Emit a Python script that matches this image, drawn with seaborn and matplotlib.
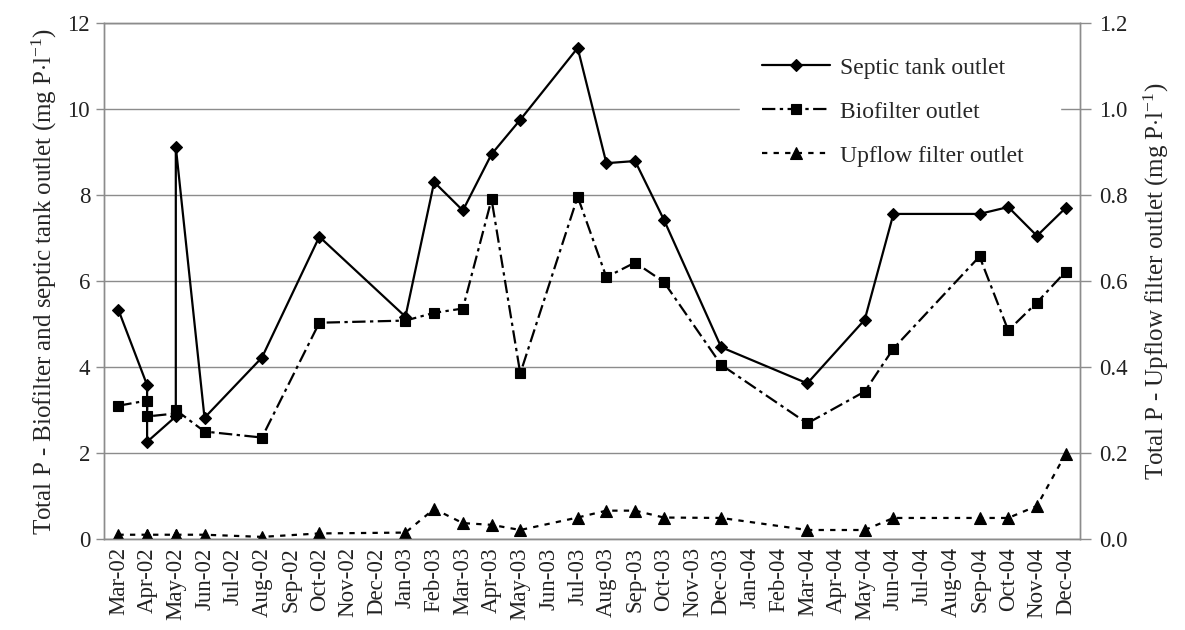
import numpy as np
import pandas as pd
import matplotlib
matplotlib.use('Agg')
import matplotlib.pyplot as plt
import seaborn as sns

# Month categories on the x axis (Excel-style monthly date axis)
month_labels = ['Mar-02', 'Apr-02', 'May-02', 'Jun-02', 'Jul-02', 'Aug-02', 'Sep-02',
                'Oct-02', 'Nov-02', 'Dec-02', 'Jan-03', 'Feb-03', 'Mar-03', 'Apr-03',
                'May-03', 'Jun-03', 'Jul-03', 'Aug-03', 'Sep-03', 'Oct-03', 'Nov-03',
                'Dec-03', 'Jan-04', 'Feb-04', 'Mar-04', 'Apr-04', 'May-04', 'Jun-04',
                'Jul-04', 'Aug-04', 'Sep-04', 'Oct-04', 'Nov-04', 'Dec-04']

# Sampling months (several samples can fall in the same month)
sample_months = ['Mar-02', 'Apr-02', 'Apr-02', 'May-02', 'May-02', 'Jun-02', 'Aug-02',
                 'Oct-02', 'Jan-03', 'Feb-03', 'Mar-03', 'Apr-03', 'May-03', 'Jul-03',
                 'Aug-03', 'Sep-03', 'Oct-03', 'Dec-03', 'Mar-04', 'May-04', 'Jun-04',
                 'Sep-04', 'Oct-04', 'Nov-04', 'Dec-04']

septic = [5.33, 3.58, 2.26, 2.85, 9.12, 2.82, 4.22, 7.03, 5.17, 8.30, 7.64, 8.95, 9.75,
          11.42, 8.74, 8.79, 7.43, 4.46, 3.62, 5.10, 7.56, 7.56, 7.72, 7.05, 7.70]
biofilter = [3.10, 3.22, 2.85, 2.92, 3.00, 2.50, 2.36, 5.03, 5.08, 5.26, 5.36, 7.90, 3.85,
             7.96, 6.09, 6.43, 5.98, 4.05, 2.69, 3.43, 4.43, 6.57, 4.85, 5.50, 6.22]
upflow = [0.010, 0.010, 0.010, 0.010, 0.010, 0.010, 0.005, 0.013, 0.015, 0.070, 0.037,
          0.033, 0.021, 0.050, 0.066, 0.066, 0.050, 0.049, 0.021, 0.021, 0.049, 0.049,
          0.049, 0.077, 0.198]

df = pd.DataFrame({
    'month': sample_months,
    'septic': septic,
    'biofilter': biofilter,
    'upflow': upflow,
})
df['pos'] = [month_labels.index(m) for m in df['month']]

sns.set_style('white')
plt.rcParams['font.family'] = ['Liberation Serif', 'DejaVu Serif']
plt.rcParams['mathtext.fontset'] = 'custom'
plt.rcParams['mathtext.rm'] = 'Liberation Serif'
plt.rcParams['mathtext.it'] = 'Liberation Serif:italic'

fig, ax = plt.subplots(figsize=(11.85, 6.3), dpi=100)
fig.subplots_adjust(left=0.0878, right=0.9114, top=0.9635, bottom=0.1444)
ax2 = ax.twinx()

grey = '#8c8c8c'
fs = 16.5

sns.lineplot(data=df, x='pos', y='septic', ax=ax, estimator=None, sort=False,
             color='black', lw=1.6, marker='D', markersize=6.5, mec='black', mew=0.8,
             label='Septic tank outlet')
sns.lineplot(data=df, x='pos', y='biofilter', ax=ax, estimator=None, sort=False,
             color='black', lw=1.6, linestyle=(0, (6, 2, 1.5, 2)), marker='s',
             markersize=7.5, mec='black', mew=0.8, label='Biofilter outlet')
sns.lineplot(data=df, x='pos', y='upflow', ax=ax2, estimator=None, sort=False,
             color='black', lw=1.6, linestyle=(0, (2.4, 2.8)), marker='^',
             markersize=8.5, mec='black', mew=0.8, label='Upflow filter outlet')

# axes ranges
ax.set_xlim(-0.5, len(month_labels) - 0.5)
ax.set_ylim(0, 12)
ax2.set_ylim(0, 1.2)

# x axis: labels centred in each month, ticks at month boundaries
ax.set_xticks(np.arange(len(month_labels)))
ax.set_xticklabels(month_labels, rotation=90, fontsize=fs)
ax.set_xticks(np.arange(len(month_labels) + 1) - 0.5, minor=True)
ax.tick_params(axis='x', which='major', length=0, pad=6, labelcolor='#222222')
ax.tick_params(axis='x', which='minor', length=7, width=1, color=grey, direction='out')

ax.set_yticks(np.arange(0, 13, 2))
ax.set_yticklabels([str(v) for v in range(0, 13, 2)], fontsize=fs)
ax.tick_params(axis='y', length=6, width=1, color=grey, direction='out', pad=4,
               labelcolor='#222222')

ax2.set_yticks(np.arange(0, 1.21, 0.2))
ax2.set_yticklabels([f'{v:.1f}' for v in np.arange(0, 1.21, 0.2)], fontsize=fs)
ax2.tick_params(axis='y', length=8, width=1, color=grey, direction='out', pad=6,
                labelcolor='#222222')

ax.yaxis.grid(True, color=grey, lw=1)
ax.xaxis.grid(False)
ax2.grid(False)
ax.set_axisbelow(True)

for a in (ax, ax2):
    for s in a.spines.values():
        s.set_color(grey)
        s.set_linewidth(1)

ax.set_xlabel('')
ax.set_ylabel(r'Total P - Biofilter and septic tank outlet (mg P$\cdot$l$^{-1}$)',
              fontsize=18, labelpad=6)
ax2.set_ylabel(r'Total P - Upflow filter outlet (mg P$\cdot$l$^{-1}$)',
               fontsize=18, labelpad=10)

# combined legend on top axes (white box hides the grid behind it)
h1, l1 = ax.get_legend_handles_labels()
h2, l2 = ax2.get_legend_handles_labels()
if ax.get_legend() is not None:
    ax.get_legend().remove()
leg = ax2.legend(h1 + h2, l1 + l2, loc='upper left',
                 bbox_to_anchor=(0.652, 0.975, 0.327, 0.0), mode='expand',
                 fontsize=17, frameon=True, facecolor='white', edgecolor='white',
                 framealpha=1, fancybox=False, borderpad=0.9, handlelength=2.9,
                 handletextpad=0.4, labelspacing=0.95, numpoints=1, borderaxespad=0)

fig.savefig('out.png', dpi=100)
